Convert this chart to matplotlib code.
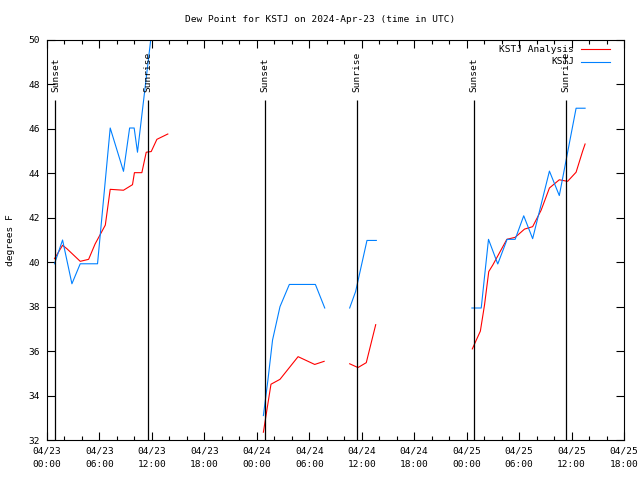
import numpy as np
import matplotlib
matplotlib.use("Agg")
import matplotlib.pyplot as plt
from matplotlib.lines import Line2D

nan = np.nan

# hours since 04/23 00:00 UTC; nan = gap in the record
ana_hours = [0.86, 1.78, 2.27, 3.8, 4.76, 5.5, 6.67, 7.23, 8.75, 9.78, 10.0, 10.85,
             11.35, 11.92, 12.57, 13.82, nan,
             24.75, 25.62, 26.65, 28.72, 30.62, 31.7, nan,
             34.62, 35.57, 36.52, 37.6, nan,
             48.65, 49.57, 50.05, 50.53, 51.0, 52.6, 53.55, 54.62, 55.55, 56.52,
             57.47, 58.6, 59.55, 60.52, 61.27, 61.55]
ana_dewpt = [40.16, 40.76, 40.61, 40.04, 40.13, 40.82, 41.67, 43.28, 43.24, 43.49, 44.03, 44.03,
             44.95, 44.98, 45.53, 45.77, nan,
             32.35, 34.51, 34.73, 35.75, 35.4, 35.54, nan,
             35.43, 35.26, 35.48, 37.19, nan,
             36.1, 36.9, 38.09, 39.58, 39.88, 41.03, 41.12, 41.49, 41.6, 42.34,
             43.34, 43.71, 43.64, 44.05, 45.0, 45.32]

obs_hours = [0.86, 1.78, 2.85, 3.8, 5.78, 7.23, 8.75, 9.45, 9.97, 10.35, 12.4, nan,
             24.75, 25.27, 25.8, 26.65, 27.72, 30.7, 31.77, nan,
             34.62, 35.3, 36.6, 37.67, nan,
             48.6, 49.67, 50.05, 50.5, 51.56, 52.63, 53.55, 54.53, 55.55, 57.47,
             58.6, 60.52, 61.55]
obs_dewpt = [39.93, 41.0, 39.03, 39.93, 39.93, 46.04, 44.09, 46.04, 46.04, 44.95, 51.8, nan,
             33.1, 34.7, 36.5, 38.0, 39.0, 39.0, 37.94, nan,
             37.94, 38.68, 40.98, 40.98, nan,
             37.94, 37.94, 39.36, 41.03, 39.92, 41.03, 41.03, 42.09, 41.06, 44.1,
             43.0, 46.93, 46.93]

sunset_hours = [0.97, 24.92, 48.88]
sunrise_hours = [11.5, 35.45, 59.38]

tick_hours = [0, 6, 12, 18, 24, 30, 36, 42, 48, 54, 60, 66]
tick_labels = ["04/23\n00:00", "04/23\n06:00", "04/23\n12:00", "04/23\n18:00",
               "04/24\n00:00", "04/24\n06:00", "04/24\n12:00", "04/24\n18:00",
               "04/25\n00:00", "04/25\n06:00", "04/25\n12:00", "04/25\n18:00"]

plt.rcParams['font.family'] = 'DejaVu Sans Mono'
plt.rcParams['font.size'] = 6.8

fig = plt.figure(figsize=(6.4, 4.8), dpi=100)
ax = fig.add_axes([47 / 640, 40 / 480, 577 / 640, 400 / 480])

ax.plot(ana_hours, ana_dewpt, color='#ff0000', lw=0.8)
ax.plot(obs_hours, obs_dewpt, color='#0080ff', lw=0.8)

# sunrise / sunset markers
for h in sunset_hours:
    ax.vlines(h, 32, 47.3, color='black', lw=0.9)
    ax.text(h, 47.65, "Sunset", rotation=90, ha='center', va='bottom')
for h in sunrise_hours:
    ax.vlines(h, 32, 47.3, color='black', lw=0.9)
    ax.text(h, 47.65, "Sunrise", rotation=90, ha='center', va='bottom')

ax.set_xlim(0, 66)
ax.set_ylim(32, 50)
ax.set_xticks(tick_hours)
ax.set_xticklabels(tick_labels, linespacing=1.55)
ax.set_xticks(np.arange(0, 67, 2), minor=True)
ax.set_yticks(np.arange(32, 51, 2))
ax.tick_params(which='both', direction='in', top=True, right=True, width=0.8)
ax.tick_params(which='major', length=6)
ax.tick_params(which='minor', length=3)
ax.tick_params(axis='x', pad=5)
ax.tick_params(axis='y', pad=5)
for s in ax.spines.values():
    s.set_linewidth(0.8)

fig.text(0.5, 1 - 19 / 480, "Dew Point for KSTJ on 2024-Apr-23 (time in UTC)",
         ha='center', va='center')
fig.text(11 / 640, 0.5, "degrees F", rotation=90, ha='center', va='center')

# legend drawn by hand so the labels are right aligned like gnuplot
fig.text(574 / 640, 1 - 50 / 480, "KSTJ Analysis", ha='right', va='center')
fig.text(574 / 640, 1 - 62 / 480, "KSTJ", ha='right', va='center')
fig.add_artist(Line2D([581 / 640, 610 / 640], [1 - 49 / 480] * 2, color='#ff0000', lw=0.8))
fig.add_artist(Line2D([581 / 640, 610 / 640], [1 - 62 / 480] * 2, color='#0080ff', lw=0.8))

fig.savefig("out.png", dpi=100)
